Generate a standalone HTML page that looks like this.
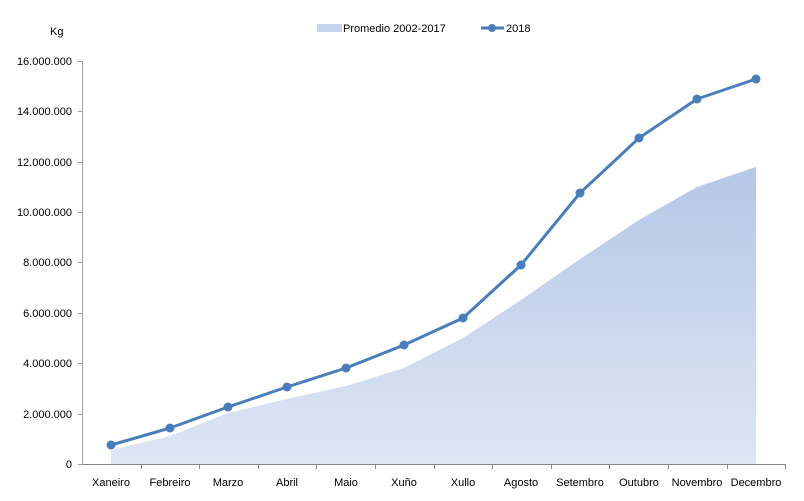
<!DOCTYPE html>
<html><head><meta charset="utf-8"><style>
body{margin:0;background:#fff}
svg{display:block;font-family:"Liberation Sans",sans-serif;font-size:11px;fill:#000}
</style></head><body>
<svg width="804" height="501" viewBox="0 0 804 501">
<defs>
<linearGradient id="g" x1="0" y1="0" x2="0" y2="1" gradientUnits="userSpaceOnUse">
<stop offset="0.33" stop-color="#b4c7e7"/><stop offset="0.93" stop-color="#dfe6f4"/>
</linearGradient>
</defs>
<rect x="0" y="0" width="804" height="501" fill="url(#g)" opacity="0" />
<text x="50" y="35">Kg</text>
<rect x="317" y="24" width="25" height="8" fill="#c7d5ee"/>
<text x="343" y="32">Promedio 2002-2017</text>
<line x1="481" y1="28" x2="504" y2="28" stroke="#4a7ebb" stroke-width="3"/>
<circle cx="492" cy="28" r="4" fill="#4a7ebb"/>
<text x="506" y="32">2018</text>
<g text-anchor="end">
<text x="72" y="65">16.000.000</text>
<text x="72" y="115">14.000.000</text>
<text x="72" y="166">12.000.000</text>
<text x="72" y="216">10.000.000</text>
<text x="72" y="266">8.000.000</text>
<text x="72" y="317">6.000.000</text>
<text x="72" y="367">4.000.000</text>
<text x="72" y="418">2.000.000</text>
<text x="72" y="468">0</text>
</g>
<g stroke="#a0a0a0" stroke-width="1">
<line x1="82.5" y1="61" x2="82.5" y2="464"/>
<line x1="78" y1="61.5" x2="83" y2="61.5"/><line x1="78" y1="111.5" x2="83" y2="111.5"/><line x1="78" y1="162.5" x2="83" y2="162.5"/><line x1="78" y1="212.5" x2="83" y2="212.5"/><line x1="78" y1="262.5" x2="83" y2="262.5"/><line x1="78" y1="313.5" x2="83" y2="313.5"/><line x1="78" y1="363.5" x2="83" y2="363.5"/><line x1="78" y1="414.5" x2="83" y2="414.5"/><line x1="78" y1="464.5" x2="83" y2="464.5"/>
</g>
<linearGradient id="a" x1="0" y1="167" x2="0" y2="464" gradientUnits="userSpaceOnUse">
<stop offset="0" stop-color="#b4c7e7"/><stop offset="1" stop-color="#dee6f4"/>
</linearGradient>
<polygon fill="url(#a)" points="111,450 170,436 228,413 287,399 346,386 404,368 463,338 521,300 580,259 639,220 697,187 756,167 756,464 111,464"/>
<g stroke="#868686" stroke-width="1">
<line x1="82" y1="464.5" x2="786" y2="464.5"/>
<line x1="141.5" y1="464" x2="141.5" y2="469"/><line x1="199.5" y1="464" x2="199.5" y2="469"/><line x1="258.5" y1="464" x2="258.5" y2="469"/><line x1="316.5" y1="464" x2="316.5" y2="469"/><line x1="375.5" y1="464" x2="375.5" y2="469"/><line x1="434.5" y1="464" x2="434.5" y2="469"/><line x1="492.5" y1="464" x2="492.5" y2="469"/><line x1="551.5" y1="464" x2="551.5" y2="469"/><line x1="609.5" y1="464" x2="609.5" y2="469"/><line x1="668.5" y1="464" x2="668.5" y2="469"/><line x1="727.5" y1="464" x2="727.5" y2="469"/><line x1="785.5" y1="464" x2="785.5" y2="469"/>
</g>
<polyline fill="none" stroke="#4a7ebb" stroke-width="3" stroke-linejoin="round" points="111,445 170,428 228,407 287,387 346,368 404,345 463,318 521,265 580,193 639,138 697,99 756,79"/>
<g fill="#4a7ebb">
<circle cx="111" cy="445" r="4.5"/><circle cx="170" cy="428" r="4.5"/><circle cx="228" cy="407" r="4.5"/><circle cx="287" cy="387" r="4.5"/><circle cx="346" cy="368" r="4.5"/><circle cx="404" cy="345" r="4.5"/><circle cx="463" cy="318" r="4.5"/><circle cx="521" cy="265" r="4.5"/><circle cx="580" cy="193" r="4.5"/><circle cx="639" cy="138" r="4.5"/><circle cx="697" cy="99" r="4.5"/><circle cx="756" cy="79" r="4.5"/>
</g>
<g text-anchor="middle">
<text x="111" y="486">Xaneiro</text><text x="170" y="486">Febreiro</text><text x="228" y="486">Marzo</text><text x="287" y="486">Abril</text><text x="346" y="486">Maio</text><text x="404" y="486">Xuño</text><text x="463" y="486">Xullo</text><text x="521" y="486">Agosto</text><text x="580" y="486">Setembro</text><text x="639" y="486">Outubro</text><text x="697" y="486">Novembro</text><text x="756" y="486">Decembro</text>
</g>
</svg>
</body></html>
